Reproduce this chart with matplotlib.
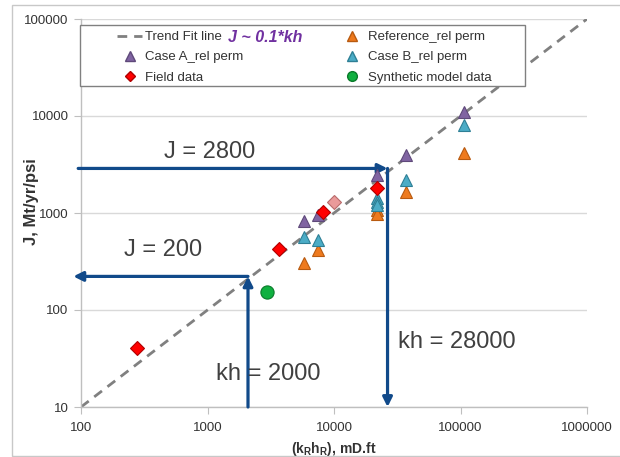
import matplotlib
matplotlib.use('Agg')
import matplotlib.pyplot as plt
from matplotlib.lines import Line2D
from matplotlib.patches import Rectangle

plt.rcParams['font.family'] = ['Liberation Sans', 'DejaVu Sans']

# ---------------- data ----------------
trend_kh = [100, 1000000]
trend_coef = 0.1

case_a_kh = [5800, 7500, 22000, 37000, 107000]
case_a_j = [830, 950, 2450, 3950, 11000]

case_b_kh = [5800, 7500, 22000, 22000, 22000, 37000, 107000]
case_b_j = [565, 530, 1430, 1300, 1210, 2190, 8100]

ref_kh = [5800, 7500, 22000, 22000, 37000, 107000]
ref_j = [305, 415, 1075, 980, 1645, 4150]

field_kh = [277, 3700, 8200, 21800]
field_j = [40.6, 425, 1020, 1810]

field_hl_kh = [10000]
field_hl_j = [1300]

synth_kh = [2950]
synth_j = [153]

# guide arrows (kh, J)
kh_high, j_high = 26500, 2880
kh_low, j_low = 2090, 222
x_ticks = [100, 1000, 10000, 100000, 1000000]
y_ticks = [10, 100, 1000, 10000, 100000]

# ---------------- figure ----------------
W, H = 620, 457
fig = plt.figure(figsize=(W / 100, H / 100), dpi=100)
ax = fig.add_axes([81 / W, 1 - 407 / H, (587 - 81) / W, (407 - 19) / H])

fig.add_artist(Rectangle((12 / W, 1 - 456 / H), (W + 5 - 12) / W, (456 - 5) / H,
                         transform=fig.transFigure, fill=False,
                         edgecolor='#C8C8C8', lw=1.0))

ax.set_xscale('log')
ax.set_yscale('log')
ax.set_xlim(100, 1000000)
ax.set_ylim(10, 100000)

ax.set_xticks(x_ticks)
ax.set_xticklabels([str(v) for v in x_ticks])
ax.set_yticks(y_ticks)
ax.set_yticklabels([str(v) for v in y_ticks])
ax.minorticks_off()

for s in ['top', 'right']:
    ax.spines[s].set_visible(False)
for s in ['left', 'bottom']:
    ax.spines[s].set_color('#BFBFBF')
    ax.spines[s].set_linewidth(1.0)
ax.tick_params(axis='both', which='major', length=5, color='#BFBFBF',
               labelsize=9.5, labelcolor='#333333', pad=4)
ax.tick_params(axis='x', pad=6)
ax.yaxis.grid(True, color='#D9D9D9', lw=1.0)
ax.set_axisbelow(True)

ax.set_xlabel(r'(k$_\mathregular{R}$h$_\mathregular{R}$), mD.ft', fontsize=10,
              fontweight='bold', color='#333333', labelpad=4)
ax.set_ylabel('J, Mt/yr/psi', fontsize=12, fontweight='bold', color='#333333')
ax.yaxis.set_label_coords((39 - 81) / 506, 1 - (202 - 19) / 388)

# trend line
trend_j = [trend_coef * v for v in trend_kh]
ax.plot(trend_kh, trend_j, color='#808080', lw=2.0, ls=(0, (3.5, 2.5)), zorder=2)

# arrows
arrow_col = '#114A8A'
ap = dict(arrowstyle='-|>', color=arrow_col, lw=2.3, shrinkA=0, shrinkB=0,
          mutation_scale=14)
ax.annotate('', xy=(kh_high, j_high), xytext=(95, j_high), arrowprops=ap,
            annotation_clip=False, zorder=3)
ax.annotate('', xy=(kh_high, 10), xytext=(kh_high, j_high), arrowprops=ap,
            annotation_clip=False, zorder=3)
ax.annotate('', xy=(kh_low, j_low), xytext=(kh_low, 10), arrowprops=ap,
            annotation_clip=False, zorder=3)
ax.annotate('', xy=(87, j_low), xytext=(kh_low, j_low), arrowprops=ap,
            annotation_clip=False, zorder=3)

# data points
ms_tri = 8.5
ax.plot(ref_kh, ref_j, ls='none', marker='^', ms=ms_tri, mfc='#EE7A1E',
        mec='#B85A10', mew=0.8, zorder=4)
ax.plot(case_b_kh, case_b_j, ls='none', marker='^', ms=ms_tri, mfc='#4BACC6',
        mec='#2E7F95', mew=0.8, zorder=5)
ax.plot(case_a_kh, case_a_j, ls='none', marker='^', ms=ms_tri, mfc='#8064A2',
        mec='#5F497A', mew=0.8, zorder=6)
ax.plot(field_hl_kh, field_hl_j, ls='none', marker='D', ms=7.5, mfc='#EA9A9A',
        mec='#B86A6A', mew=0.8, zorder=7)
ax.plot(field_kh, field_j, ls='none', marker='D', ms=7.5, mfc='#FF0000',
        mec='#B00000', mew=0.8, zorder=7)
ax.plot(synth_kh, synth_j, ls='none', marker='o', ms=9.5, mfc='#10B040',
        mec='#0A7A2A', mew=0.8, zorder=7)

# annotation texts
tcol = '#404040'
ax.text(1047, 4256, 'J = 2800', fontsize=17, color=tcol, ha='center', va='center')
ax.text(445, 416, 'J = 200', fontsize=17, color=tcol, ha='center', va='center')
ax.text(3006, 21.9, 'kh = 2000', fontsize=17, color=tcol, ha='center', va='center')
ax.text(93800, 46.8, 'kh = 28000', fontsize=17, color=tcol, ha='center', va='center')

# legend frame
ax.add_patch(Rectangle(((80 - 81) / 506, 1 - (86 - 19) / 388), (525 - 80) / 506,
                       (86 - 25) / 388, transform=ax.transAxes, facecolor='white',
                       edgecolor='#808080', lw=1.0, zorder=9, clip_on=False))

# legend
handles = [
    Line2D([], [], color='#808080', lw=2.0, ls=(0, (3.5, 2.5)), label='Trend Fit line'),
    Line2D([], [], ls='none', marker='^', ms=7, mfc='#8064A2', mec='#5F497A', label='Case A_rel perm'),
    Line2D([], [], ls='none', marker='D', ms=5.5, mfc='#FF0000', mec='#B00000', label='Field data'),
    Line2D([], [], ls='none', marker='^', ms=7, mfc='#EE7A1E', mec='#B85A10', label='Reference_rel perm'),
    Line2D([], [], ls='none', marker='^', ms=7, mfc='#4BACC6', mec='#2E7F95', label='Case B_rel perm'),
    Line2D([], [], ls='none', marker='o', ms=7, mfc='#10B040', mec='#0A7A2A', label='Synthetic model data'),
]
leg = ax.legend(handles=handles, ncol=2, loc='upper left',
                bbox_to_anchor=((117 - 81) / 506, 1 - (31 - 19) / 388),
                fontsize=9.5, frameon=False, handlelength=1.9, handletextpad=0.25,
                borderpad=0.0, labelspacing=0.6, borderaxespad=0.0,
                columnspacing=7.3)
for t in leg.get_texts():
    t.set_color('#333333')
leg.set_zorder(10)

ax.annotate('J ~ 0.1*kh', xy=(1, 0.5), xycoords=leg.get_texts()[0],
            xytext=(4, 0), textcoords='offset points', ha='left', va='center',
            fontsize=11.5, fontweight='bold', fontstyle='italic', color='#7030A0',
            zorder=11)

fig.savefig('out.png', dpi=100)
